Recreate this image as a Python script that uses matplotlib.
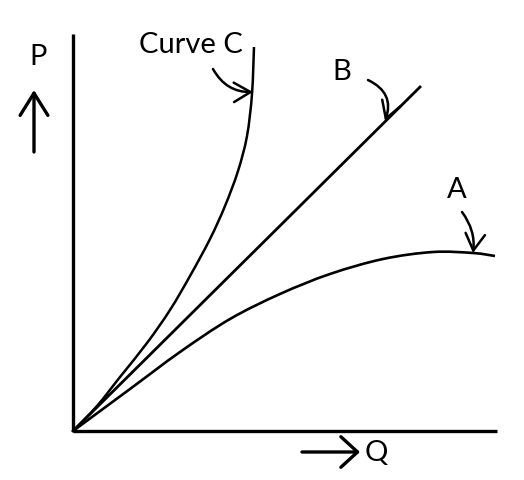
import numpy as np
import matplotlib
matplotlib.use('Agg')
import matplotlib.pyplot as plt
from matplotlib.patches import FancyArrowPatch, PathPatch
from matplotlib.path import Path

# sketch of P vs Q, arbitrary units (origin at the corner of the axes)
q_c = [0, 24, 47, 74, 97, 117, 137, 152, 165, 174, 179, 181]
p_c = [0, 25, 54, 88, 121, 155, 192, 225, 260, 295, 337, 384]

q_b = [0, 347]
p_b = [0, 344]

q_a = [0, 57, 107, 157, 207, 257, 310, 360, 400, 422]
p_a = [0, 42, 79, 112, 137, 157, 172, 179, 178, 175]

q_max = 424
p_max = 397

plt.rcParams['font.family'] = ['Lato', 'DejaVu Sans']


def smooth_path(xs, ys):
    # bezier path through the points (catmull-rom style handles)
    pts = np.column_stack([xs, ys]).astype(float)
    verts = [pts[0]]
    codes = [Path.MOVETO]
    n = len(pts)
    for i in range(n - 1):
        p0 = pts[i - 1] if i > 0 else pts[i]
        p1 = pts[i]
        p2 = pts[i + 1]
        p3 = pts[i + 2] if i + 2 < n else pts[i + 1]
        verts += [p1 + (p2 - p0) / 6, p2 - (p3 - p1) / 6, p2]
        codes += [Path.CURVE4] * 3
    return Path(verts, codes)


fig = plt.figure(figsize=[5.24, 4.81], dpi=100)
ax = fig.add_axes([0, 0, 1, 1])
ax.set_xlim(-73, 451)
ax.set_ylim(-49, 432)
ax.axis('off')

# axes
ax.plot([0, 0], [0, p_max], color='black', lw=2.4, solid_capstyle='butt')
ax.plot([0, q_max], [0, 0], color='black', lw=2.4, solid_capstyle='butt')

# curves
ax.add_patch(PathPatch(smooth_path(q_c, p_c), fill=False, lw=1.8, color='black'))
ax.plot(q_b, p_b, color='black', lw=2.0)
ax.add_patch(PathPatch(smooth_path(q_a, p_a), fill=False, lw=1.9, color='black'))

# labels
ax.text(118, 387, 'Curve C', fontsize=21, ha='center', va='center')
ax.text(269, 360, 'B', fontsize=21, ha='center', va='center')
ax.text(384, 242, 'A', fontsize=21, ha='center', va='center')
ax.text(-35, 375, 'P', fontsize=21, ha='center', va='center')
ax.text(303, -21, 'Q', fontsize=21, ha='center', va='center')

# axis direction arrows
ax.annotate('', xy=(-39, 341), xytext=(-39, 279),
            arrowprops=dict(arrowstyle='->,head_length=0.8,head_width=0.5',
                            lw=2.4, color='black', mutation_scale=20,
                            shrinkA=0, shrinkB=0))
ax.annotate('', xy=(287, -21), xytext=(229, -21),
            arrowprops=dict(arrowstyle='->,head_length=0.6,head_width=0.55',
                            lw=2.4, color='black', mutation_scale=20,
                            shrinkA=0, shrinkB=0))

# pointer arrows to the curves
pointers = [((140, 362), (180, 339), 0.3),
            ((295, 351), (312, 310), -0.45),
            ((389, 219), (400, 178), -0.2)]
for start, end, rad in pointers:
    ax.add_patch(FancyArrowPatch(start, end,
                                 connectionstyle='arc3,rad=%s' % rad,
                                 arrowstyle='->,head_length=0.6,head_width=0.35',
                                 mutation_scale=20, lw=1.8, color='black',
                                 shrinkA=0, shrinkB=0))

plt.savefig('out.png', dpi=100)
plt.close()
